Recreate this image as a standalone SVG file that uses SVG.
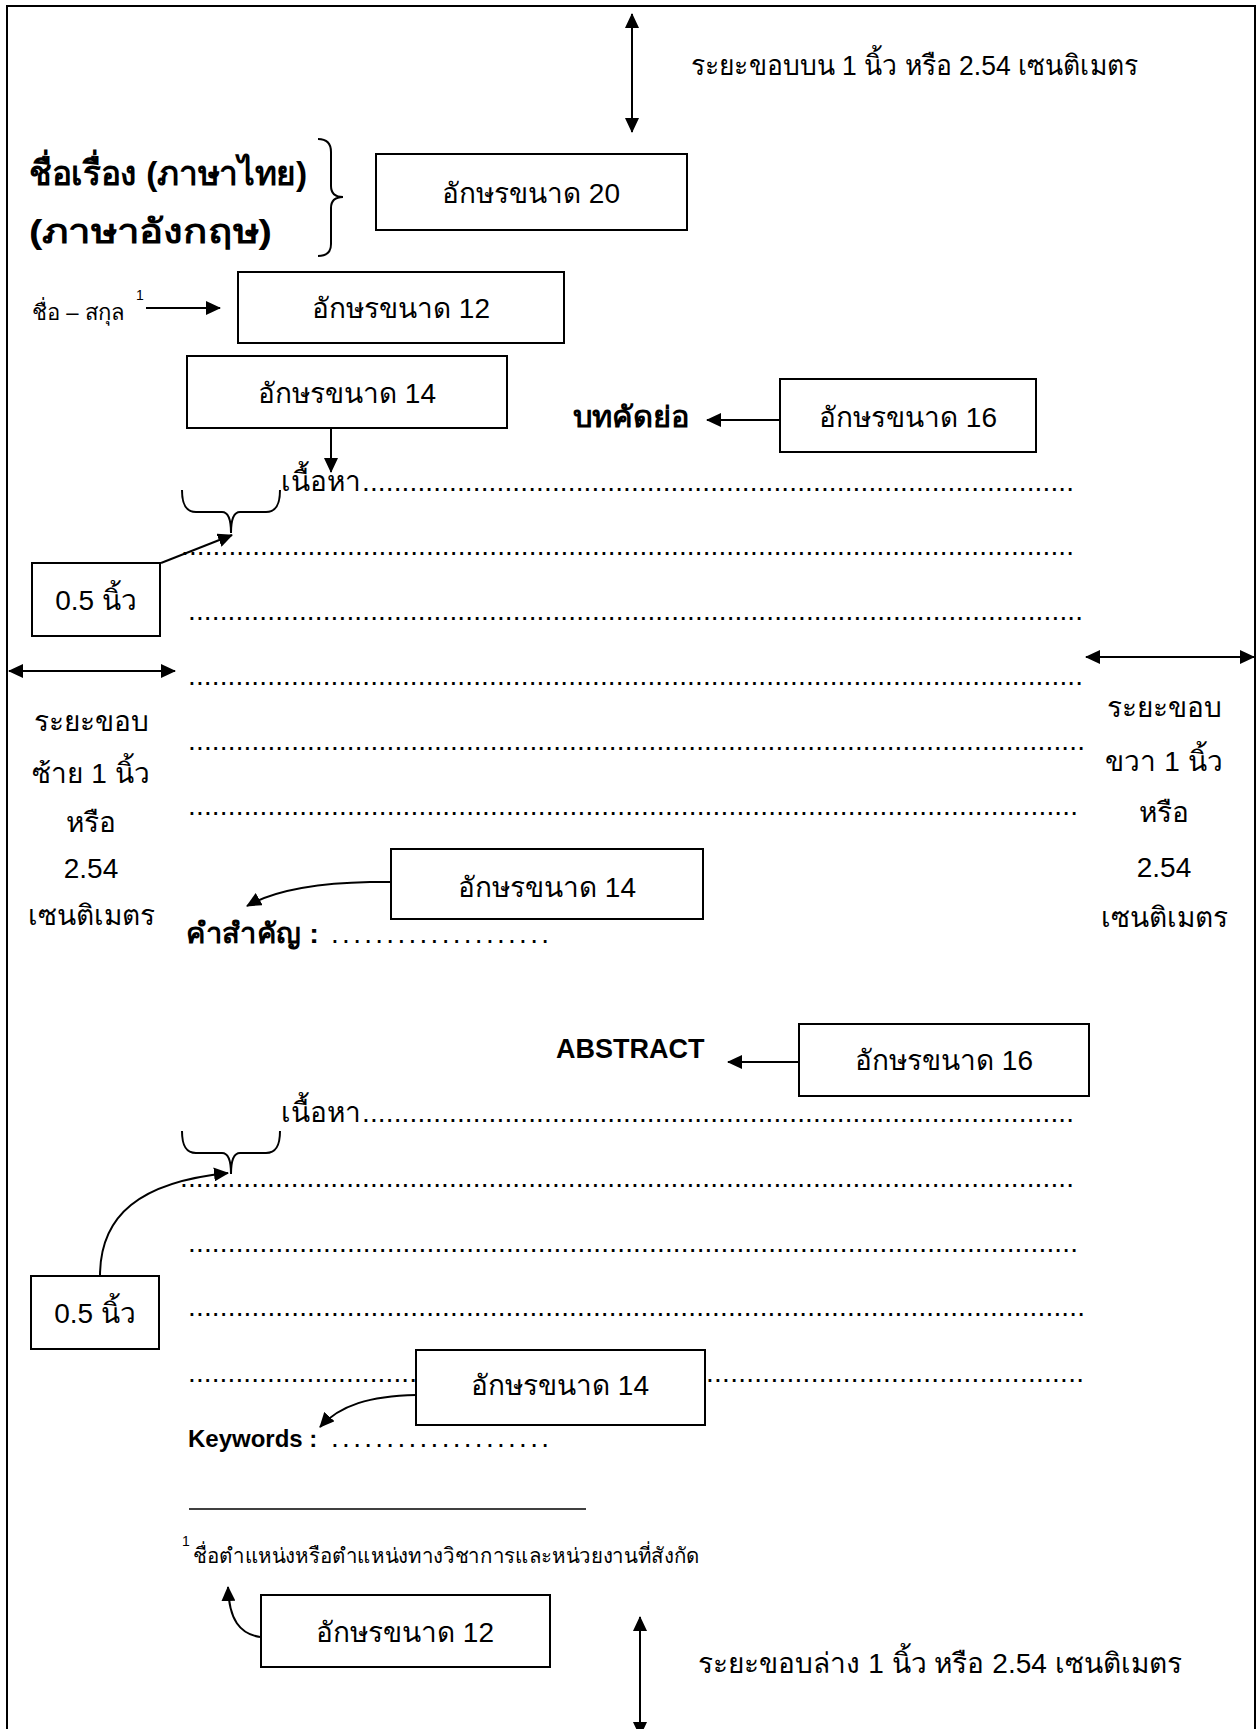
<svg xmlns="http://www.w3.org/2000/svg" width="1258" height="1729" viewBox="0 0 1258 1729">
<style>
.t{font-family:"Liberation Sans","Noto Sans","DejaVu Sans",sans-serif;fill:#000}
.b{font-weight:bold}
.m{text-anchor:middle}
.lbl{font-size:28px}
.dots{font-size:28px}
.box{fill:#fff;stroke:#000;stroke-width:2}
.c{fill:none;stroke:#000;stroke-width:2}
</style>
<defs>
<marker id="ah" viewBox="0 0 15 14" refX="14" refY="7" markerWidth="15" markerHeight="14" markerUnits="userSpaceOnUse" orient="auto-start-reverse"><path d="M0,0 L15,7 L0,14 z" fill="#000"/></marker>
</defs>
<rect width="1258" height="1729" fill="#fff"/>
<path class="c" d="M7,1740 V6 H1255 V1740"/>

<g id="connectors">
<line class="c" x1="632" y1="14" x2="632" y2="132" marker-start="url(#ah)" marker-end="url(#ah)"/>
<line class="c" x1="146" y1="308" x2="220" y2="308" marker-end="url(#ah)"/>
<line class="c" x1="331" y1="428" x2="331" y2="472" marker-end="url(#ah)"/>
<line class="c" x1="780" y1="420" x2="707" y2="420" marker-end="url(#ah)"/>
<line class="c" x1="161" y1="563" x2="232" y2="535" marker-end="url(#ah)"/>
<line class="c" x1="9" y1="671" x2="175" y2="671" marker-start="url(#ah)" marker-end="url(#ah)"/>
<line class="c" x1="1086" y1="657" x2="1254" y2="657" marker-start="url(#ah)" marker-end="url(#ah)"/>
<path class="c" d="M391,882 L370,882 C320,883 275,890 247,906" marker-end="url(#ah)"/>
<line class="c" x1="799" y1="1062" x2="728" y2="1062" marker-end="url(#ah)"/>
<path class="c" d="M100,1276 C100,1215 140,1182 228,1173" marker-end="url(#ah)"/>
<path class="c" d="M416,1395 C370,1396 340,1405 320,1427" marker-end="url(#ah)"/>
<path class="c" d="M260,1637 C240,1634 229,1620 228,1587" marker-end="url(#ah)"/>
<line class="c" x1="640" y1="1617" x2="640" y2="1736" marker-start="url(#ah)" marker-end="url(#ah)"/>
<path class="c" d="M318,139 C327,139 331,143 331,152 L331,186 C331,193 335,197 343,197 C335,197 331,201 331,208 L331,244 C331,252 327,256 318,256"/>
<path class="c" d="M182,490 C182,505 186,512 196,512 L222,512 C228,512 231,518 231,533 C231,518 234,512 240,512 L266,512 C276,512 280,505 280,490"/>
<path class="c" transform="translate(0,641)" d="M182,490 C182,505 186,512 196,512 L222,512 C228,512 231,518 231,533 C231,518 234,512 240,512 L266,512 C276,512 280,505 280,490"/>
<line x1="189" y1="1509" x2="586" y2="1509" stroke="#000" stroke-width="1.5"/>
</g>

<g id="top-margin"><text class="t lbl" x="691" y="75" textLength="447" lengthAdjust="spacingAndGlyphs">ระยะขอบบน 1 นิ้ว หรือ 2.54 เซนติเมตร</text></g>
<g id="title">
<text class="t b" x="29" y="185" font-size="34" textLength="278" lengthAdjust="spacingAndGlyphs">ชื่อเรื่อง (ภาษาไทย)</text>
<text class="t b" x="29" y="243" font-size="34" textLength="243" lengthAdjust="spacingAndGlyphs">(ภาษาอังกฤษ)</text>
</g>
<g id="box20"><rect class="box" x="376" y="154" width="311" height="76"/><text class="t lbl m" x="531" y="203">อักษรขนาด 20</text></g>
<g id="author"><text class="t" x="32" y="320" font-size="22" textLength="92" lengthAdjust="spacingAndGlyphs">ชื่อ – สกุล</text><text class="t" x="136" y="300" font-size="14">1</text></g>
<g id="box12a"><rect class="box" x="238" y="272" width="326" height="71"/><text class="t lbl m" x="401" y="318">อักษรขนาด 12</text></g>
<g id="box14a"><rect class="box" x="187" y="356" width="320" height="72"/><text class="t lbl m" x="347" y="403">อักษรขนาด 14</text></g>
<g id="abstract-th"><text class="t b" x="573" y="427" font-size="29" textLength="116" lengthAdjust="spacingAndGlyphs">บทคัดย่อ</text></g>
<g id="box16a"><rect class="box" x="780" y="379" width="256" height="73"/><text class="t lbl m" x="908" y="427">อักษรขนาด 16</text></g>
<g id="box05a"><rect class="box" x="32" y="563" width="128" height="73"/><text class="t lbl m" x="96" y="610">0.5 นิ้ว</text></g>

<g id="body-th">
<text class="t lbl" x="281" y="491">เนื้อหา</text>
<text class="t dots" x="362" y="491" textLength="712" lengthAdjust="spacing">..........................................................................................</text>
<text class="t dots" x="181" y="555" textLength="893" lengthAdjust="spacing">.................................................................................................................</text>
<text class="t dots" x="188" y="620" textLength="895" lengthAdjust="spacing">.................................................................................................................</text>
<text class="t dots" x="188" y="685" textLength="895" lengthAdjust="spacing">.................................................................................................................</text>
<text class="t dots" x="188" y="750" textLength="897" lengthAdjust="spacing">.................................................................................................................</text>
<text class="t dots" x="188" y="815" textLength="890" lengthAdjust="spacing">................................................................................................................</text>
</g>

<g id="left-margin">
<text class="t lbl m" x="91" y="731">ระยะขอบ</text>
<text class="t lbl m" x="91" y="783">ซ้าย 1 นิ้ว</text>
<text class="t lbl m" x="91" y="832">หรือ</text>
<text class="t lbl m" x="91" y="878">2.54</text>
<text class="t lbl m" x="91" y="925">เซนติเมตร</text>
</g>
<g id="right-margin">
<text class="t lbl m" x="1164" y="717">ระยะขอบ</text>
<text class="t lbl m" x="1164" y="771">ขวา 1 นิ้ว</text>
<text class="t lbl m" x="1164" y="822">หรือ</text>
<text class="t lbl m" x="1164" y="877">2.54</text>
<text class="t lbl m" x="1164" y="927">เซนติเมตร</text>
</g>

<g id="box14b"><rect class="box" x="391" y="849" width="312" height="70"/><text class="t lbl m" x="547" y="897">อักษรขนาด 14</text></g>
<g id="keywords-th"><text class="t b" x="186" y="943" font-size="28" textLength="133" lengthAdjust="spacingAndGlyphs">คำสำคัญ :</text><text class="t" x="331" y="943" font-size="28" textLength="218" lengthAdjust="spacing">....................</text></g>

<g id="abstract-en"><text class="t b" x="556" y="1058" font-size="27">ABSTRACT</text></g>
<g id="box16b"><rect class="box" x="799" y="1024" width="290" height="72"/><text class="t lbl m" x="944" y="1070">อักษรขนาด 16</text></g>

<g id="body-en">
<text class="t lbl" x="281" y="1122">เนื้อหา</text>
<text class="t dots" x="362" y="1122" textLength="712" lengthAdjust="spacing">..........................................................................................</text>
<text class="t dots" x="180" y="1187" textLength="894" lengthAdjust="spacing">.................................................................................................................</text>
<text class="t dots" x="188" y="1252" textLength="890" lengthAdjust="spacing">................................................................................................................</text>
<text class="t dots" x="188" y="1316" textLength="897" lengthAdjust="spacing">.................................................................................................................</text>
<text class="t dots" x="188" y="1382" textLength="229" lengthAdjust="spacing">.............................</text>
<text class="t dots" x="706" y="1382" textLength="378" lengthAdjust="spacing">...............................................</text>
</g>

<g id="box05b"><rect class="box" x="31" y="1276" width="128" height="73"/><text class="t lbl m" x="95" y="1323">0.5 นิ้ว</text></g>
<g id="box14c"><rect class="box" x="416" y="1350" width="289" height="75"/><text class="t lbl m" x="560" y="1395">อักษรขนาด 14</text></g>
<g id="keywords-en"><text class="t b" x="188" y="1447" font-size="24">Keywords :</text><text class="t" x="331" y="1447" font-size="28" textLength="218" lengthAdjust="spacing">....................</text></g>

<g id="footnote"><text class="t" x="182" y="1546" font-size="14">1</text><text class="t" x="193" y="1563" font-size="21" textLength="507" lengthAdjust="spacingAndGlyphs">ชื่อตำแหน่งหรือตำแหน่งทางวิชาการและหน่วยงานที่สังกัด</text></g>
<g id="box12b"><rect class="box" x="261" y="1595" width="289" height="72"/><text class="t lbl m" x="405" y="1642">อักษรขนาด 12</text></g>
<g id="bottom-margin"><text class="t lbl" x="698" y="1673" textLength="484" lengthAdjust="spacingAndGlyphs">ระยะขอบล่าง 1 นิ้ว หรือ 2.54 เซนติเมตร</text></g>
</svg>
